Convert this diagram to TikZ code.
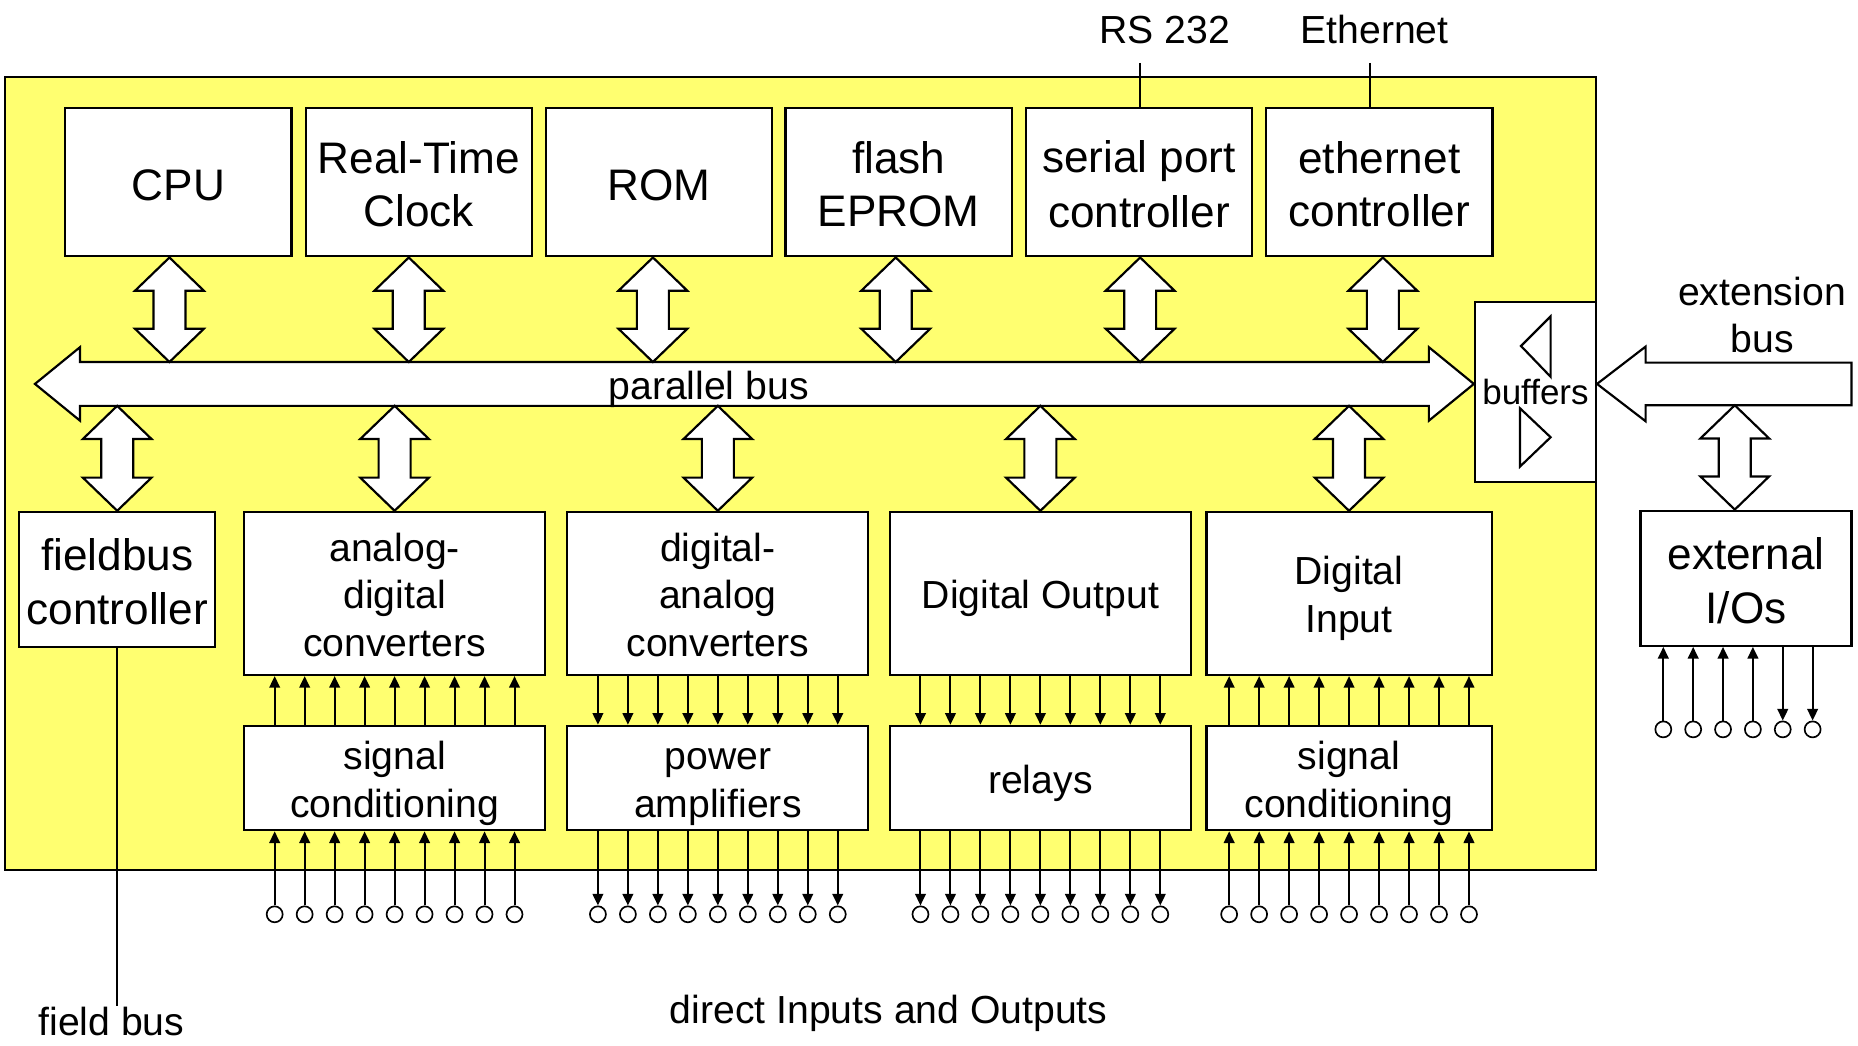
\documentclass[tikz,border=0pt]{standalone}
\usepackage{fontspec}
\setmainfont{Liberation Sans}
\usetikzlibrary{arrows.meta,calc}
\definecolor{bgyellow}{RGB}{255,255,112}
\newcommand\fs{\rule[-5pt]{0pt}{28.3pt}}
\newcommand\fb{\rule[-5pt]{0pt}{31.8pt}}
\newcommand\dblarrowv[2]{%
  \draw[bigarrow] (#1) -- ++(29,28) -- ++(-15.5,0)
    -- ($(#1|-#2)+(13.5,-28)$) -- ++(15.5,0) -- (#1|-#2)
    -- ++(-29,-28) -- ++(15.5,0)
    -- ($(#1)+(-13.5,28)$) -- ++(-15.5,0) -- cycle;}
\begin{document}
\begin{tikzpicture}[x=0.025cm,y=-0.025cm,line width=1.3pt,line join=miter,
  box/.style={draw=black,fill=white,inner sep=0pt,align=center},
  big/.style={font=\fontsize{26.5}{32}\selectfont},
  small/.style={font=\fontsize{23.5}{28.5}\selectfont},
  topbox/.style={box,big,minimum width=135.9pt,minimum height=89.3pt},
  iobox/.style={box,small,minimum width=180.7pt,minimum height=97.9pt},
  sigbox/.style={box,small,minimum width=180.7pt,minimum height=62.7pt},
  bigarrow/.style={draw=black,fill=white},
  sig/.style={line width=1.2pt,-{Triangle[length=7pt,width=6.4pt]}},
  pin/.style={circle,draw=black,fill=white,line width=1pt,minimum size=9.6pt,inner sep=0pt},
  lbl/.style={inner sep=0pt}
]
\useasboundingbox (0,0) rectangle (1568,882);
\fill[white] (0,0) rectangle (1568,882);
% board
\draw[fill=bgyellow] (4,65) rectangle (1347,734);

% top row
\node[topbox] (cpu) at (150.5,153.6) {\fb CPU};
\node[topbox] (rtc) at (353.5,153.6) {\fb Real-Time\\\fb Clock};
\node[topbox] (rom) at (556,153.6) {\fb ROM};
\node[topbox] (flash) at (758.4,153.6) {\fb flash\\\fb EPROM};
\node[topbox] (serial) at (961.2,153.6) {\fb serial port\\\fb controller};
\node[topbox] (eth) at (1164,153.6) {\fb ethernet\\\fb controller};

% bottom rows
\node[box,big,minimum width=117.5pt,minimum height=81.1pt] (fieldbus) at (98.9,489) {\fb fieldbus\\\fb controller};
\node[iobox] (adc) at (333,500.8) {\fs analog-\\\fs digital\\\fs converters};
\node[iobox] (dac) at (605.8,500.8) {\fs digital-\\\fs analog\\\fs converters};
\node[iobox] (dout) at (878,500.8) {\fs Digital Output};
\node[iobox,minimum width=171.1pt] (din) at (1138.5,500.8) {\fs Digital\\\fs Input};
\node[sigbox] (sca) at (333,656.6) {\fs signal\\\fs conditioning};
\node[sigbox] (pamp) at (605.8,656.6) {\fs power\\\fs amplifiers};
\node[sigbox] (relays) at (878,656.6) {\fs relays};
\node[sigbox,minimum width=171.1pt] (scb) at (1138.5,656.6) {\fs signal\\\fs conditioning};
\node[box,big,minimum width=126.6pt,minimum height=81.1pt] (extio) at (1473.5,488) {\fb external\\\fb I/Os};
\node[box,font=\fontsize{21}{25}\selectfont,minimum width=72.6pt,minimum height=108pt] (buffers) at (1295.8,330.5) {buffers};

% buffer triangles
\draw ($(buffers.center)+(-12.2,-38.5)$) -- ($(buffers.center)+(12.8,-63.5)$) -- ($(buffers.center)+(12.8,-12.5)$) -- cycle;
\draw ($(buffers.center)+(12.8,38.5)$) -- ($(buffers.center)+(-13.1,14)$) -- ($(buffers.center)+(-13.1,63.3)$) -- cycle;

% parallel bus
\coordinate (busL) at (29.5,324);
\coordinate (busR) at (buffers.west |- busL);
\coordinate (bustop) at (0,305.5);
\coordinate (busbot) at (0,342.5);
\draw[bigarrow] (busL) -- ++(38,-31) -- ++(0,12.5) -- ($(busR)+(-38,-18.5)$) -- ++(0,-12.5) -- (busR)
  -- ++(-38,31) -- ++(0,-12.5) -- ($(busL)+(38,18.5)$) -- ++(0,12.5) -- cycle;
\node[lbl,small,anchor=base] (pbus) at (598,337) {parallel bus};

% extension bus
\coordinate (xtip) at (buffers.east |- busL);
\coordinate (xend) at (1562.5,324);
\coordinate (extbot) at (0,342);
\draw[bigarrow] (xtip) -- ++(41,-31.5) -- ++(0,13.5) -- ($(xend)+(0,-18)$) -- ($(xend)+(0,18)$)
  -- ($(xtip)+(41,18)$) -- ++(0,13.5) -- cycle;
\node[lbl,small,align=center] (extlbl) at (1487,266) {extension\\bus};

% double arrows to the bus
\coordinate (t1) at ($(cpu.south)+(-7.5,0)$);
\coordinate (t2) at ($(rtc.south)+(-8.5,0)$);
\coordinate (t3) at ($(rom.south)+(-5,0)$);
\coordinate (t4) at ($(flash.south)+(-2.5,0)$);
\coordinate (t5) at ($(serial.south)+(1,0)$);
\coordinate (t6) at ($(eth.south)+(3,0)$);
\foreach \t in {t1,t2,t3,t4,t5,t6} {\dblarrowv{\t}{bustop}}
\coordinate (b1) at (fieldbus.north |- busbot);
\coordinate (b2) at (adc.north |- busbot);
\coordinate (b3) at (dac.north |- busbot);
\coordinate (b4) at (dout.north |- busbot);
\coordinate (b5) at (din.north |- busbot);
\dblarrowv{b1}{fieldbus.north}
\dblarrowv{b2}{adc.north}
\dblarrowv{b3}{dac.north}
\dblarrowv{b4}{dout.north}
\dblarrowv{b5}{din.north}
\coordinate (e1) at ($(extio.north |- extbot)+(-9.5,0)$);
\dblarrowv{e1}{extio.north}

% signal arrows
\foreach \d [count=\k] in {-4,...,4} {
  \draw[sig] ($(sca.north)+(\d*25.3,0)$) -- ($(adc.south)+(\d*25.3,0)$);
  \node[pin] (pinA\k) at ($(sca.south)+(\d*25.3,70)$) {};
  \draw[sig] (pinA\k.north) -- (pinA\k.north |- sca.south);
  \draw[sig] ($(dac.south)+(\d*25.3,0)$) -- ($(pamp.north)+(\d*25.3,0)$);
  \node[pin] (pinB\k) at ($(pamp.south)+(\d*25.3,70)$) {};
  \draw[sig] (pinB\k.north |- pamp.south) -- (pinB\k.north);
  \draw[sig] ($(dout.south)+(\d*25.3,0)$) -- ($(relays.north)+(\d*25.3,0)$);
  \node[pin] (pinC\k) at ($(relays.south)+(\d*25.3,70)$) {};
  \draw[sig] (pinC\k.north |- relays.south) -- (pinC\k.north);
  \draw[sig] ($(scb.north)+(\d*25.3,0)$) -- ($(din.south)+(\d*25.3,0)$);
  \node[pin] (pinD\k) at ($(scb.south)+(\d*25.3,70)$) {};
  \draw[sig] (pinD\k.north) -- (pinD\k.north |- scb.south);
}
\foreach \d [count=\k] in {-69.8,-44.6,-19.4,5.8,31,56.2} {
  \node[pin] (pinE\k) at ($(extio.south)+(\d,69.6)$) {};
}
\foreach \k in {1,...,4} {\draw[sig] (pinE\k.north) -- (pinE\k.north |- extio.south);}
\foreach \k in {5,6} {\draw[sig] (pinE\k.north |- extio.south) -- (pinE\k.north);}

% external labels and lines
\node[lbl,small] (rs) at (983,25) {RS 232};
\node[lbl,small] (ethlbl) at (1160,25) {Ethernet};
\coordinate (rsend) at (962,53);
\coordinate (ethend) at (1156,53);
\draw (rsend) -- (rsend |- serial.north);
\draw (ethend) -- (ethend |- eth.north);
\node[lbl,small,anchor=base] (fblbl) at (94,874) {field bus};
\draw (fieldbus.south) -- (fieldbus.south |- fblbl.north);
\node[lbl,small,anchor=base] (dio) at (750,864) {direct Inputs and Outputs};
\end{tikzpicture}
\end{document}
